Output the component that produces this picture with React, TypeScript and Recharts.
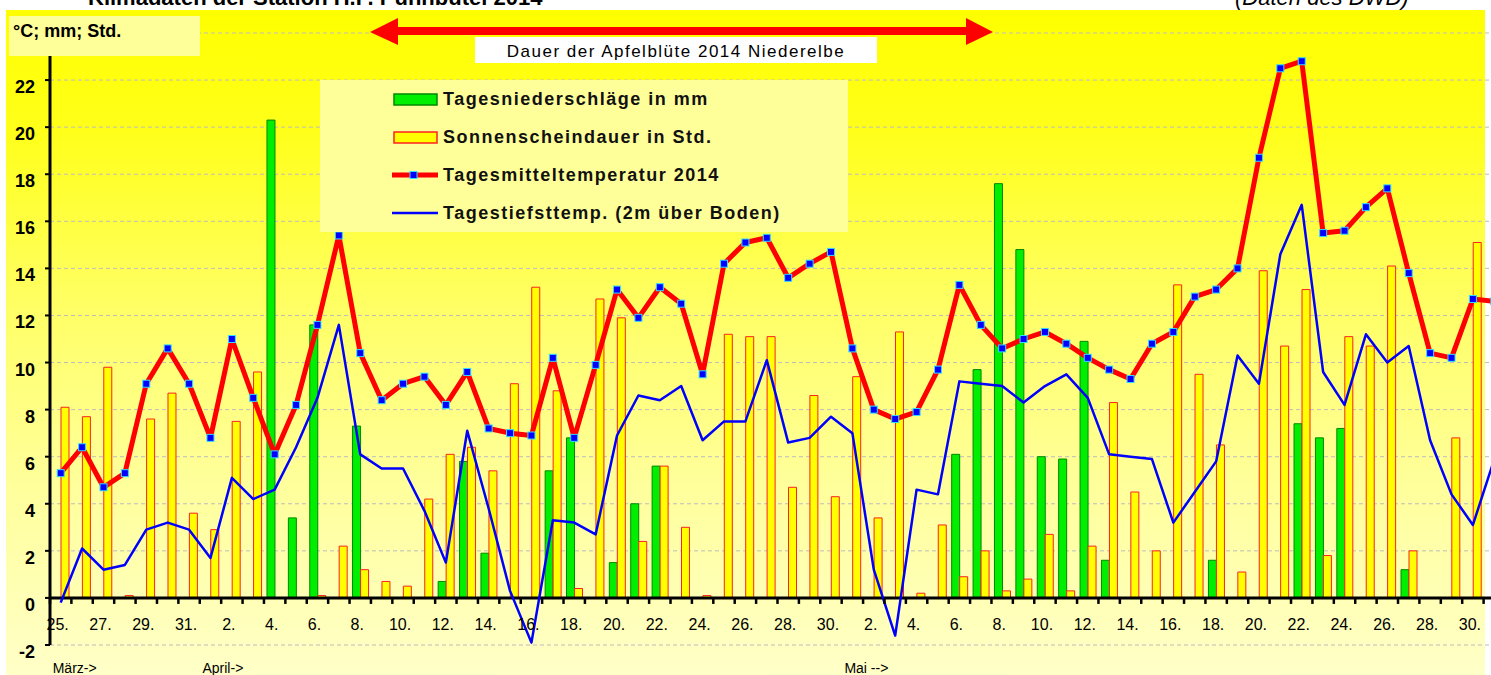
import React from "react";
import {
  ComposedChart,
  Bar,
  Line,
  XAxis,
  YAxis,
  CartesianGrid,
  ReferenceLine,
  Legend,
} from "recharts";

const FONT = '"Liberation Sans", Arial, sans-serif';

// 25. März bis 31. Mai 2014
const DAYS = [
  "25", "26", "27", "28", "29", "30", "31",
  "1", "2", "3", "4", "5", "6", "7", "8", "9", "10", "11", "12", "13", "14", "15",
  "16", "17", "18", "19", "20", "21", "22", "23", "24", "25", "26", "27", "28", "29", "30",
  "1", "2", "3", "4", "5", "6", "7", "8", "9", "10", "11", "12", "13", "14", "15",
  "16", "17", "18", "19", "20", "21", "22", "23", "24", "25", "26", "27", "28", "29", "30", "31",
];

const MONTH_LABELS = [
  { index: 0, text: "März->" },
  { index: 7, text: "April->" },
  { index: 37, text: "Mai -->" },
];

// Tagesniederschläge in mm
const RAIN = [
  0, 0, 0, 0, 0, 0, 0,
  0, 0, 0, 20.3, 3.4, 11.6, 0, 7.3, 0, 0, 0, 0.7, 5.8, 1.9, 0,
  0, 5.4, 6.8, 0, 1.5, 4.0, 5.6, 0, 0, 0, 0, 0, 0, 0, 0,
  0, 0, 0, 0, 0, 6.1, 9.7, 17.6, 14.8, 6.0, 5.9, 10.9, 1.6, 0, 0,
  0, 0, 1.6, 0, 0, 0, 7.4, 6.8, 7.2, 0, 0, 1.2, 0, 0, 0, 0,
];

// Sonnenscheindauer in Std.
const SUN = [
  8.1, 7.7, 9.8, 0.1, 7.6, 8.7, 3.6,
  2.9, 7.5, 9.6, 0, 0, 0.1, 2.2, 1.2, 0.7, 0.5, 4.2, 6.1, 6.4, 5.4, 9.1,
  13.2, 8.8, 0.4, 12.7, 11.9, 2.4, 5.6, 3.0, 0.1, 11.2, 11.1, 11.1, 4.7, 8.6, 4.3,
  9.4, 3.4, 11.3, 0.2, 3.1, 0.9, 2.0, 0.3, 0.8, 2.7, 0.3, 2.2, 8.3, 4.5, 2.0,
  13.3, 9.5, 6.5, 1.1, 13.9, 10.7, 13.1, 1.8, 11.1, 10.7, 14.1, 2.0, 0, 6.8, 15.1, 0,
];

// Tagesmitteltemperatur 2014
const MEAN = [
  5.3, 6.4, 4.7, 5.3, 9.1, 10.6, 9.1,
  6.8, 11.0, 8.5, 6.1, 8.2, 11.6, 15.4, 10.4, 8.4, 9.1, 9.4, 8.2, 9.6, 7.2, 7.0,
  6.9, 10.2, 6.8, 9.9, 13.1, 11.9, 13.2, 12.5, 9.5, 14.2, 15.1, 15.3, 13.6, 14.2, 14.7,
  10.6, 8.0, 7.6, 7.9, 9.7, 13.3, 11.6, 10.6, 11.0, 11.3, 10.8, 10.2, 9.7, 9.3, 10.8,
  11.3, 12.8, 13.1, 14.0, 18.7, 22.5, 22.8, 15.5, 15.6, 16.6, 17.4, 13.8, 10.4, 10.2, 12.7, 12.6,
];

// Tagestiefsttemp. (2m über Boden)
const MIN = [
  -0.2, 2.1, 1.2, 1.4, 2.9, 3.2, 2.9,
  1.7, 5.1, 4.2, 4.6, 6.4, 8.5, 11.6, 6.1, 5.5, 5.5, 3.7, 1.5, 7.1, 3.8, 0.3,
  -1.9, 3.3, 3.2, 2.7, 6.9, 8.6, 8.4, 9.0, 6.7, 7.5, 7.5, 10.1, 6.6, 6.8, 7.7,
  7.0, 1.2, -1.6, 4.6, 4.4, 9.2, 9.1, 9.0, 8.3, 9.0, 9.5, 8.5, 6.1, 6.0, 5.9,
  3.2, 4.5, 5.8, 10.3, 9.1, 14.6, 16.7, 9.6, 8.2, 11.2, 10.0, 10.7, 6.7, 4.4, 3.1, 5.9,
];

const Y_TICKS = [-2, 0, 2, 4, 6, 8, 10, 12, 14, 16, 18, 20, 22, 24];

const data = DAYS.map((day, i) => ({
  day,
  rain: RAIN[i] > 0 ? RAIN[i] : null,
  sun: SUN[i] > 0 ? SUN[i] : null,
  mean: MEAN[i],
  min: MIN[i],
}));

const W = 1505;
const H = 675;
const AXIS_W = 50;
const TOP = 33;
const BOTTOM = 30;
const PLOT_H = H - TOP - BOTTOM;
const BAND = (W - AXIS_W) / DAYS.length;
const Y_MAX = Y_TICKS[Y_TICKS.length - 1];
const ZERO_OFFSET = (PLOT_H * (0 - Y_TICKS[0])) / (Y_MAX - Y_TICKS[0]);

const YTick = (props: any) => {
  const { x, y, payload } = props;
  // die oberste Marke liegt unter dem Einheitenkasten
  if (payload.value === Y_MAX) return <g />;
  return (
    <text x={x} y={y + 13} textAnchor="end" fontSize={18} fontWeight="bold" fill="#000" fontFamily={FONT}>
      {payload.value}
    </text>
  );
};

const DayTick = (props: any) => {
  const { x, y, payload } = props;
  const i = payload.index;
  const zeroY = y - ZERO_OFFSET;
  const month = MONTH_LABELS.find((m) => m.index === i);
  return (
    <g>
      <line x1={x - BAND / 2} x2={x - BAND / 2} y1={zeroY} y2={zeroY + 6} stroke="#000" strokeWidth={2.5} />
      {i % 2 === 0 && (
        <text x={x - 3} y={y - 15} textAnchor="middle" fontSize={16} fill="#000" fontFamily={FONT}>
          {payload.value}.
        </text>
      )}
      {month && (
        <text x={x - 8} y={y + 28} fontSize={14} fill="#000" fontFamily={FONT}>
          {month.text}
        </text>
      )}
    </g>
  );
};

const SquareDot = (props: any) => {
  const { cx, cy, index } = props;
  if (cx == null || cy == null) return <g key={index} />;
  return (
    <rect key={index} x={cx - 3.5} y={cy - 3.5} width={7} height={7} fill="#0000ff" stroke="#33ddff" strokeWidth={1} />
  );
};

const LegendBox = () => (
  <svg width={528} height={152} style={{ display: "block", background: "#ffff99" }}>
    <g fontFamily={FONT} fontWeight="bold" fontSize={18} fill="#111" style={{ letterSpacing: "1.5px" }}>
      <rect x={74} y={14} width={43} height={11} fill="#00ee00" stroke="#008800" strokeWidth={1.5} />
      <text x={123} y={25}>Tagesniederschläge in mm</text>
      <rect x={74} y={52} width={43} height={11} fill="#ffff00" stroke="#ff2020" strokeWidth={1.5} />
      <text x={123} y={63}>Sonnenscheindauer in Std.</text>
      <line x1={72} x2={118} y1={95} y2={95} stroke="#ff0000" strokeWidth={5} />
      <rect x={90} y={91.5} width={7} height={7} fill="#0000ff" stroke="#33ddff" strokeWidth={1} />
      <text x={123} y={101}>Tagesmitteltemperatur 2014</text>
      <line x1={72} x2={118} y1={133} y2={133} stroke="#0000ff" strokeWidth={2.5} />
      <text x={123} y={139}>Tagestiefsttemp. (2m über Boden)</text>
    </g>
  </svg>
);

export default function App() {
  return (
    <div
      style={{
        position: "absolute",
        left: 0,
        top: 0,
        width: 1491,
        height: 675,
        overflow: "hidden",
        background: "#fff",
        fontFamily: FONT,
      }}
    >
      <div
        style={{
          position: "absolute",
          left: 6,
          top: 10,
          width: 1479,
          height: 665,
          background:
            "linear-gradient(to bottom, #ffff00 0%, #ffff1a 18%, #ffff66 45%, #ffff99 70%, #ffffc8 100%)",
        }}
      />
      <div style={{ position: "absolute", left: 0, top: 0 }}>
        <ComposedChart
          width={W}
          height={H}
          data={data}
          margin={{ top: TOP, right: 0, bottom: 0, left: 0 }}
          barGap={0}
        >
          <CartesianGrid vertical={false} stroke="#bdbdbd" strokeDasharray="4 3" />
          <XAxis
            dataKey="day"
            interval={0}
            height={BOTTOM}
            tickSize={0}
            tickMargin={0}
            axisLine={false}
            tickLine={false}
            tick={DayTick}
          />
          <YAxis
            domain={[-2, 24]}
            ticks={Y_TICKS}
            interval={0}
            width={AXIS_W}
            tickSize={5}
            tickMargin={10}
            allowDataOverflow
            axisLine={{ stroke: "#000", strokeWidth: 3 }}
            tickLine={{ stroke: "#000", strokeWidth: 2 }}
            tick={YTick}
          />
          <Legend
            layout="vertical"
            align="center"
            verticalAlign="middle"
            content={LegendBox}
            wrapperStyle={{ left: 320, top: 80, width: 528, height: 152 }}
          />
          <Bar dataKey="rain" fill="#00ee00" stroke="#008800" strokeWidth={1} barSize={8} isAnimationActive={false} />
          <Bar dataKey="sun" fill="#ffff00" stroke="#ff2020" strokeWidth={1} barSize={8} isAnimationActive={false} />
          <ReferenceLine y={0} stroke="#000" strokeWidth={3} />
          <Line
            type="linear"
            dataKey="min"
            stroke="#0000ff"
            strokeWidth={2.5}
            strokeLinejoin="round"
            dot={false}
            activeDot={false}
            isAnimationActive={false}
          />
          <Line
            type="linear"
            dataKey="mean"
            stroke="#ff0000"
            strokeWidth={5}
            strokeLinejoin="round"
            dot={SquareDot}
            activeDot={false}
            isAnimationActive={false}
          />
        </ComposedChart>
      </div>
      <svg
        width={1491}
        height={675}
        style={{ position: "absolute", left: 0, top: 0, pointerEvents: "none" }}
        fontFamily={FONT}
      >
        <text x={88} y={5} fontSize={22} fontWeight="bold" fill="#000">
          Klimadaten der Station H.P. Pünnbütel 2014
        </text>
        <text x={1235} y={5} fontSize={22} fontStyle="italic" fill="#000">
          (Daten des DWD)
        </text>
        <rect x={9} y={16} width={191} height={40} fill="#ffff99" />
        <text x={13} y={37} fontSize={18} fontWeight="bold" fill="#000">
          °C; mm; Std.
        </text>
        <line x1={395} x2={968} y1={31} y2={31} stroke="#ff0000" strokeWidth={8} />
        <polygon points="370,32 398,18 398,45" fill="#ff0000" />
        <polygon points="993,32 966,18 966,45" fill="#ff0000" />
        <rect x={475} y={37} width={402} height={26} fill="#fff" />
        <text x={676} y={57} fontSize={17} textAnchor="middle" fill="#000" style={{ letterSpacing: "1.5px" }}>
          Dauer der Apfelblüte 2014 Niederelbe
        </text>
      </svg>
    </div>
  );
}
